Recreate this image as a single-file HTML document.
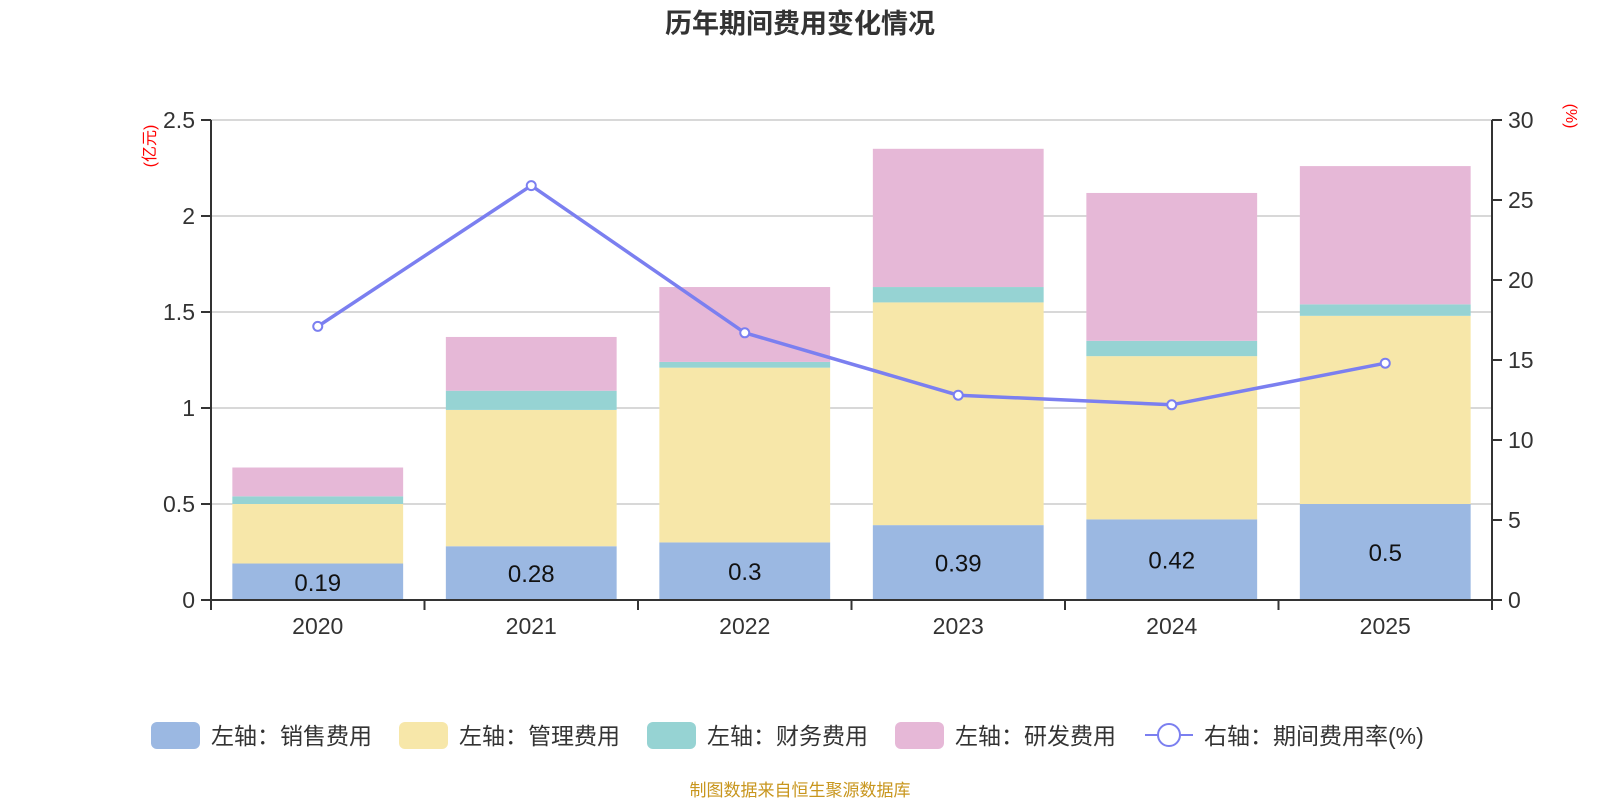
<!DOCTYPE html>
<html><head><meta charset="utf-8">
<style>
body{margin:0;background:#fff;width:1600px;height:800px;overflow:hidden;font-family:"Liberation Sans","Noto Sans CJK SC",sans-serif;}
svg text{font-family:"Liberation Sans","Noto Sans CJK SC",sans-serif;}
</style></head>
<body>
<svg id="chart" width="1600" height="800" xmlns="http://www.w3.org/2000/svg">
<text x="800" y="33" text-anchor="middle" font-size="27" font-weight="bold" fill="#333">历年期间费用变化情况</text>
<text transform="translate(155,146) rotate(-90)" text-anchor="middle" font-size="16" fill="#f00">(亿元)</text>
<text transform="translate(1566,116) rotate(90)" text-anchor="middle" font-size="16" fill="#f00">(%)</text>
<g id="grid"></g><g id="bars"></g><g id="axes"></g><g id="line"></g>
<g id="legend"></g>
<text x="800" y="796" text-anchor="middle" font-size="17" fill="#c8961e">制图数据来自恒生聚源数据库</text>
</svg>
<script>
const categories=["2020","2021","2022","2023","2024","2025"];
const sales=[0.19,0.28,0.30,0.39,0.42,0.50];
const mgmt=[0.31,0.71,0.91,1.16,0.85,0.98];
const fin=[0.04,0.10,0.03,0.08,0.08,0.06];
const rd=[0.15,0.28,0.39,0.72,0.77,0.72];
const rate=[17.1,25.9,16.7,12.8,12.2,14.8];
const leftTicks=[0,0.5,1,1.5,2,2.5];
const rightTicks=[0,5,10,15,20,25,30];
const X0=211,X1=1492,Y0=600,Y1=120;
const cw=(X1-X0)/categories.length;
const yL=v=>Y0-(v/2.5)*(Y0-Y1);
const yR=v=>Y0-(v/30)*(Y0-Y1);
const xc=i=>X0+cw*(i+0.5);
const NS="http://www.w3.org/2000/svg";
function mk(tag,attrs,parent){const e=document.createElementNS(NS,tag);for(const k in attrs)e.setAttribute(k,attrs[k]);document.getElementById(parent).appendChild(e);return e;}
leftTicks.forEach(t=>{
 if(t>0){const g=mk('line',{x1:X0,x2:X1,y1:yL(t),y2:yL(t),stroke:'#ccc','stroke-width':1.5},'grid');
 
 }
 const tk=mk('line',{x1:X0-10,x2:X0,y1:yL(t),y2:yL(t),stroke:'#333','stroke-width':2},'axes');
 
 
 const tx=mk('text',{x:X0-16,y:yL(t)+8,'text-anchor':'end','font-size':23,fill:'#333'},'axes');
 tx.textContent=t;
 
 
});
rightTicks.forEach(t=>{
 const tk=mk('line',{x1:X1,x2:X1+10,y1:yR(t),y2:yR(t),stroke:'#333','stroke-width':2},'axes');
 
 
 const tx=mk('text',{x:X1+16,y:yR(t)+8,'font-size':23,fill:'#333'},'axes');
 tx.textContent=t;
 
 
});
[[X0,Y1,X0,Y0+10],[X1,Y1,X1,Y0+10],[X0,Y0,X1,Y0]].forEach(a=>{
 const l=mk('line',{x1:a[0],y1:a[1],x2:a[2],y2:a[3],stroke:'#333','stroke-width':2},'axes');
 
 
});
categories.forEach((c,i)=>{
 const tk=mk('line',{x1:X0+cw*(i+1),x2:X0+cw*(i+1),y1:Y0,y2:Y0+10,stroke:'#333','stroke-width':2},'axes');
 
 
 const tx=mk('text',{x:xc(i),y:Y0+34,'text-anchor':'middle','font-size':23,fill:'#333'},'axes');
 tx.textContent=c;
 
 
});
const series=[[sales,'#9bb8e2','sales'],[mgmt,'#f7e7a9','mgmt'],[fin,'#96d3d3','finance'],[rd,'#e6b8d7','rd']];
const bw=cw*0.8;
categories.forEach((c,i)=>{
 let acc=0;
 series.forEach(s=>{
  const v=s[0][i];
  const r=mk('rect',{x:xc(i)-bw/2,y:yL(acc+v),width:bw,height:yL(acc)-yL(acc+v),fill:s[1]},'bars');
  
  
  acc+=v;
 });
 const lb=mk('text',{x:xc(i),y:(yL(0)+yL(sales[i]))/2+9,'text-anchor':'middle','font-size':24,fill:'#111'},'bars');
 lb.textContent=sales[i];
 
 
});
const pl=mk('polyline',{points:rate.map((v,i)=>xc(i)+','+yR(v)).join(' '),fill:'none',stroke:'#7b7ff0','stroke-width':3.5},'line');


rate.forEach((v,i)=>{
 const p=mk('circle',{cx:xc(i),cy:yR(v),r:4.5,fill:'#fff',stroke:'#7b7ff0','stroke-width':2},'line');
 
 
});
const legendItems=[["左轴：销售费用",'#9bb8e2',151],["左轴：管理费用",'#f7e7a9',399],["左轴：财务费用",'#96d3d3',647],["左轴：研发费用",'#e6b8d7',895]];
legendItems.forEach(l=>{
 const r=mk('rect',{x:l[2],y:722,width:49,height:27,rx:6,fill:l[1]},'legend');
 
 
 const t=mk('text',{x:l[2]+60,y:744,'font-size':23,fill:'#333'},'legend');
 t.textContent=l[0];
 
 
});
const ll=mk('line',{x1:1145,x2:1193,y1:735,y2:735,stroke:'#7b7ff0','stroke-width':2},'legend');


const lc=mk('circle',{cx:1169,cy:735,r:11,fill:'#fff',stroke:'#7b7ff0','stroke-width':2},'legend');


const lt=mk('text',{x:1204,y:744,'font-size':23,fill:'#333'},'legend');
lt.textContent="右轴：期间费用率(%)";


</script>
</body></html>
